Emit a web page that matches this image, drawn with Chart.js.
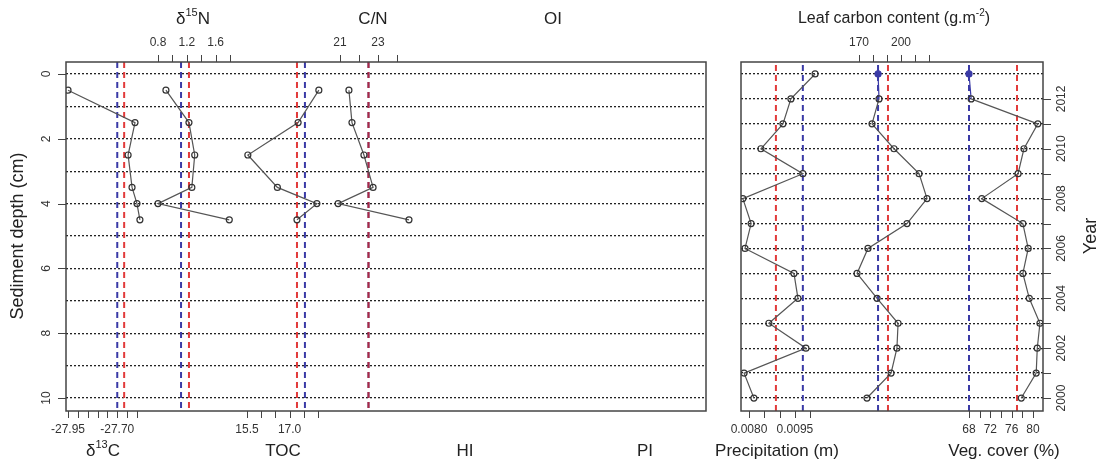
<!DOCTYPE html>
<html lang="en">
<head>
<meta charset="UTF-8">
<title>Sediment core and climate records</title>
<script src="https://cdn.jsdelivr.net/npm/chart.js"></script>
<style>
    body { margin: 0; background: #fff; font-family: "Liberation Sans", Arial, sans-serif; }
    #wrap { position: relative; width: 1105px; height: 466px; }
    canvas { position: absolute; left: 0; top: 0; }
</style>
</head>
<body>
<div id="wrap">
    <canvas id="coreChart" width="1105" height="466"></canvas>
    <canvas id="climateChart" width="1105" height="466"></canvas>
</div>
<script>
// ---- sediment core (left panel) ----
const depths = [0.5, 1.5, 2.5, 3.5, 4.0, 4.5];
const d13C = [-27.95, -27.61, -27.645, -27.625, -27.60, -27.585];
const d15N = [0.91, 1.23, 1.31, 1.27, 0.80, 1.79];
const toc = [18.03, 17.30, 15.53, 16.57, 17.96, 17.26];
const cn = [21.47, 21.63, 22.26, 22.74, 20.90, 24.63];
// dashed reference values: [blue, red]
const d13CRef = [-27.70, -27.665];
const d15NRef = [1.12, 1.23];
const tocRef = [17.54, 17.26];
const cnRef = [22.5, 22.5];

const depthTicks = [0, 2, 4, 6, 8, 10];
const depthGrid = [0, 1, 2, 3, 4, 5, 6, 7, 8, 9, 10];
const d13CTicks = [-27.95, -27.90, -27.85, -27.80, -27.75, -27.70, -27.65, -27.60];
const d13CLabels = ['-27.95', '', '', '', '', '-27.70', '', ''];
const d15NTicks = [0.8, 1.0, 1.2, 1.4, 1.6, 1.8];
const d15NLabels = ['0.8', '', '1.2', '', '1.6', ''];
const tocTicks = [15.5, 16.0, 16.5, 17.0, 17.5, 18.0];
const tocLabels = ['15.5', '', '', '17.0', '', ''];
const cnTicks = [21, 22, 23, 24];
const cnLabels = ['21', '', '23', ''];

// ---- climate / vegetation (right panel) ----
const years = [2013, 2012, 2011, 2010, 2009, 2008, 2007, 2006, 2005, 2004, 2003, 2002, 2001, 2000];
const precip = [0.01016, 0.00937, 0.00911, 0.00839, 0.00976, 0.00780, 0.00807, 0.00787, 0.00947, 0.00960, 0.00865, 0.00986, 0.00784, 0.00816];
const leafC = [183.6, 184.3, 179.3, 195.0, 212.9, 218.6, 204.3, 176.4, 168.6, 182.9, 197.9, 197.1, 192.9, 175.7];
const vegCover = [68.0, 68.4, 80.9, 78.3, 77.2, 70.4, 78.1, 79.1, 78.1, 79.3, 81.3, 80.8, 80.6, 77.8];
const precipRef = [0.00976, 0.00888];
const leafRef = [183.6, 190.7];
const vegRef = [68.0, 77.0];

const yearGrid = [2000, 2001, 2002, 2003, 2004, 2005, 2006, 2007, 2008, 2009, 2010, 2011, 2012, 2013];
const yearTicks = [2000, 2001, 2002, 2003, 2004, 2005, 2006, 2007, 2008, 2009, 2010, 2011, 2012];
const yearLabels = ['2000', '', '2002', '', '2004', '', '2006', '', '2008', '', '2010', '', '2012'];
const precipTicks = [0.0080, 0.0085, 0.0090, 0.0095, 0.0100];
const precipLabels = ['0.0080', '', '', '0.0095', ''];
const leafTicks = [170, 180, 190, 200, 210, 220];
const leafLabels = ['170', '', '', '200', '', ''];
const vegTicks = [68, 70, 72, 74, 76, 78, 80];
const vegLabels = ['68', '', '72', '', '76', '', '80'];

const RED = '#e23b3b';
const BLUE = '#3a3aa6';
const FONT = '"Liberation Sans", Arial, sans-serif';

function series(xs, ys, xAxisID, extra) {
    return Object.assign({
        data: xs.map((x, i) => ({ x: x, y: ys[i] })),
        xAxisID: xAxisID,
        yAxisID: 'y',
        showLine: true,
        borderColor: '#555',
        borderWidth: 1.2,
        pointRadius: 3,
        pointBorderWidth: 1.2,
        pointBorderColor: '#333',
        pointBackgroundColor: 'rgba(0,0,0,0)'
    }, extra || {});
}

function refLine(value, color, xAxisID, y0, y1) {
    return {
        data: [{ x: value, y: y0 }, { x: value, y: y1 }],
        xAxisID: xAxisID,
        yAxisID: 'y',
        showLine: true,
        borderColor: color,
        borderWidth: 2,
        borderDash: [6, 4],
        pointRadius: 0
    };
}

function hiddenX(min, max, position) {
    return { type: 'linear', axis: 'x', position: position, min: min, max: max, display: false };
}

function gridY(min, max, reverse, values) {
    return {
        type: 'linear', min: min, max: max, reverse: reverse,
        afterBuildTicks: s => { s.ticks = values.map(v => ({ value: v })); },
        ticks: { display: false },
        grid: { color: '#222', lineWidth: 1.3, drawTicks: false },
        border: { display: false, dash: [2, 2] }
    };
}

// text with superscript parts: [[text, isSup], ...]
function richText(ctx, parts, cx, cy, size) {
    const big = size + 'px ' + FONT, small = Math.round(size * 0.65) + 'px ' + FONT;
    let w = 0;
    parts.forEach(p => { ctx.font = p[1] ? small : big; w += ctx.measureText(p[0]).width; });
    let x = cx - w / 2;
    ctx.textAlign = 'left';
    ctx.textBaseline = 'middle';
    parts.forEach(p => {
        ctx.font = p[1] ? small : big;
        ctx.fillText(p[0], x, p[1] ? cy - size * 0.38 : cy);
        x += ctx.measureText(p[0]).width;
    });
}

const axesPlugin = {
    id: 'axesPlugin',
    afterDraw(chart) {
        const ctx = chart.ctx, a = chart.chartArea, cfg = chart.options.plugins.axesPlugin;
        ctx.save();
        ctx.strokeStyle = '#444';
        ctx.fillStyle = '#333';
        ctx.lineWidth = 1.5;
        ctx.strokeRect(a.left, a.top, a.right - a.left, a.bottom - a.top);

        ctx.lineWidth = 1;
        cfg.xAxes.forEach(ax => {
            const sc = chart.scales[ax.id];
            const top = ax.side === 'top';
            const y0 = top ? a.top : a.bottom;
            const dir = top ? -1 : 1;
            ctx.beginPath();
            ax.ticks.forEach(v => {
                const x = Math.round(sc.getPixelForValue(v)) + 0.5;
                ctx.moveTo(x, y0);
                ctx.lineTo(x, y0 + dir * 7);
            });
            ctx.stroke();
            ctx.font = '12px ' + FONT;
            ctx.textAlign = 'center';
            ctx.textBaseline = 'middle';
            ax.ticks.forEach((v, i) => {
                if (ax.labels[i]) ctx.fillText(ax.labels[i], sc.getPixelForValue(v), y0 + dir * 19);
            });
        });

        const ys = chart.scales.y, ya = cfg.yAxis;
        const right = ya.side === 'right';
        const x0 = right ? a.right : a.left;
        const dx = right ? 1 : -1;
        ctx.beginPath();
        ya.ticks.forEach(v => {
            const y = Math.round(ys.getPixelForValue(v)) + 0.5;
            ctx.moveTo(x0, y);
            ctx.lineTo(x0 + dx * 8, y);
        });
        ctx.stroke();
        ctx.font = '12px ' + FONT;
        ya.ticks.forEach((v, i) => {
            if (!ya.labels[i]) return;
            ctx.save();
            ctx.translate(x0 + dx * 19, ys.getPixelForValue(v));
            ctx.rotate(-Math.PI / 2);
            ctx.textAlign = 'center';
            ctx.textBaseline = 'middle';
            ctx.fillText(ya.labels[i], 0, 0);
            ctx.restore();
        });

        ctx.fillStyle = '#222';
        cfg.titles.forEach(t => {
            if (t.rotate) {
                ctx.save();
                ctx.translate(t.x, t.y);
                ctx.rotate(-Math.PI / 2);
                richText(ctx, t.parts, 0, 0, t.size);
                ctx.restore();
            } else {
                richText(ctx, t.parts, t.x, t.y, t.size);
            }
        });
        ctx.restore();
    }
};

const baseOptions = {
    responsive: false,
    animation: false,
    devicePixelRatio: 1,
    events: []
};

// left panel
const D0 = -0.37, D1 = 10.4;
new Chart(document.getElementById('coreChart'), {
    type: 'scatter',
    data: {
        datasets: [
            series(d13C, depths, 'xC13'),
            series(d15N, depths, 'xN15'),
            series(toc, depths, 'xTOC'),
            series(cn, depths, 'xCN'),
            refLine(d13CRef[0], BLUE, 'xC13', D0, D1),
            refLine(d13CRef[1], RED, 'xC13', D0, D1),
            refLine(d15NRef[0], BLUE, 'xN15', D0, D1),
            refLine(d15NRef[1], RED, 'xN15', D0, D1),
            refLine(tocRef[0], BLUE, 'xTOC', D0, D1),
            refLine(tocRef[1], RED, 'xTOC', D0, D1),
            refLine(cnRef[1], 'rgba(200,40,60,0.8)', 'xCN', D0, D1),
            refLine(cnRef[0], '#3a2a70', 'xCN', D0, D1)
        ]
    },
    options: Object.assign({}, baseOptions, {
        layout: { padding: { left: 66, right: 399, top: 62, bottom: 55 } },
        scales: {
            xC13: hiddenX(-27.9602, -24.7115, 'bottom'),
            xN15: hiddenX(-0.4778, 8.4111, 'top'),
            xTOC: hiddenX(9.127, 31.662, 'bottom'),
            xCN: hiddenX(6.579, 40.263, 'top'),
            y: gridY(D0, D1, true, depthGrid)
        },
        plugins: {
            legend: { display: false },
            tooltip: { enabled: false },
            axesPlugin: {
                xAxes: [
                    { id: 'xC13', side: 'bottom', ticks: d13CTicks, labels: d13CLabels },
                    { id: 'xTOC', side: 'bottom', ticks: tocTicks, labels: tocLabels },
                    { id: 'xN15', side: 'top', ticks: d15NTicks, labels: d15NLabels },
                    { id: 'xCN', side: 'top', ticks: cnTicks, labels: cnLabels }
                ],
                yAxis: { side: 'left', ticks: depthTicks, labels: depthTicks.map(String) },
                titles: [
                    { parts: [['δ', 0], ['15', 1], ['N', 0]], x: 193, y: 19, size: 17 },
                    { parts: [['C/N', 0]], x: 373, y: 19, size: 17 },
                    { parts: [['OI', 0]], x: 553, y: 19, size: 17 },
                    { parts: [['δ', 0], ['13', 1], ['C', 0]], x: 103, y: 451, size: 17 },
                    { parts: [['TOC', 0]], x: 283, y: 451, size: 17 },
                    { parts: [['HI', 0]], x: 465, y: 451, size: 17 },
                    { parts: [['PI', 0]], x: 645, y: 451, size: 17 },
                    { parts: [['Sediment depth (cm)', 0]], x: 18, y: 236, size: 18, rotate: true }
                ]
            }
        }
    }),
    plugins: [axesPlugin]
});

// right panel
const Y0 = 1999.48, Y1 = 2013.48;
const blueFirst = ctx => ctx.p0DataIndex === 0 ? BLUE : undefined;
const firstBlue = years.map((y, i) => i === 0 ? BLUE : '#333');
const firstFill = years.map((y, i) => i === 0 ? BLUE : 'rgba(0,0,0,0)');
new Chart(document.getElementById('climateChart'), {
    type: 'scatter',
    data: {
        datasets: [
            series(precip, years, 'xPrec'),
            series(leafC, years, 'xLeaf', { segment: { borderColor: blueFirst }, pointBorderColor: firstBlue, pointBackgroundColor: firstFill }),
            series(vegCover, years, 'xVeg', { segment: { borderColor: blueFirst }, pointBorderColor: firstBlue, pointBackgroundColor: firstFill }),
            refLine(precipRef[0], BLUE, 'xPrec', Y0, Y1),
            refLine(precipRef[1], RED, 'xPrec', Y0, Y1),
            refLine(leafRef[0], BLUE, 'xLeaf', Y0, Y1),
            refLine(leafRef[1], RED, 'xLeaf', Y0, Y1),
            refLine(vegRef[0], BLUE, 'xVeg', Y0, Y1),
            refLine(vegRef[1], RED, 'xVeg', Y0, Y1)
        ]
    },
    options: Object.assign({}, baseOptions, {
        layout: { padding: { left: 741, right: 62, top: 62, bottom: 55 } },
        scales: {
            xPrec: hiddenX(0.007739, 0.017608, 'bottom'),
            xLeaf: hiddenX(85.71, 301.43, 'top'),
            xVeg: hiddenX(25.25, 81.875, 'bottom'),
            y: gridY(Y0, Y1, false, yearGrid)
        },
        plugins: {
            legend: { display: false },
            tooltip: { enabled: false },
            axesPlugin: {
                xAxes: [
                    { id: 'xPrec', side: 'bottom', ticks: precipTicks, labels: precipLabels },
                    { id: 'xVeg', side: 'bottom', ticks: vegTicks, labels: vegLabels },
                    { id: 'xLeaf', side: 'top', ticks: leafTicks, labels: leafLabels }
                ],
                yAxis: { side: 'right', ticks: yearTicks, labels: yearLabels },
                titles: [
                    { parts: [['Leaf carbon content (g.m', 0], ['-2', 1], [')', 0]], x: 894, y: 19, size: 16 },
                    { parts: [['Precipitation (m)', 0]], x: 777, y: 451, size: 17 },
                    { parts: [['Veg. cover (%)', 0]], x: 1004, y: 451, size: 17 },
                    { parts: [['Year', 0]], x: 1091, y: 236, size: 18, rotate: true }
                ]
            }
        }
    }),
    plugins: [axesPlugin]
});
</script>
</body>
</html>
